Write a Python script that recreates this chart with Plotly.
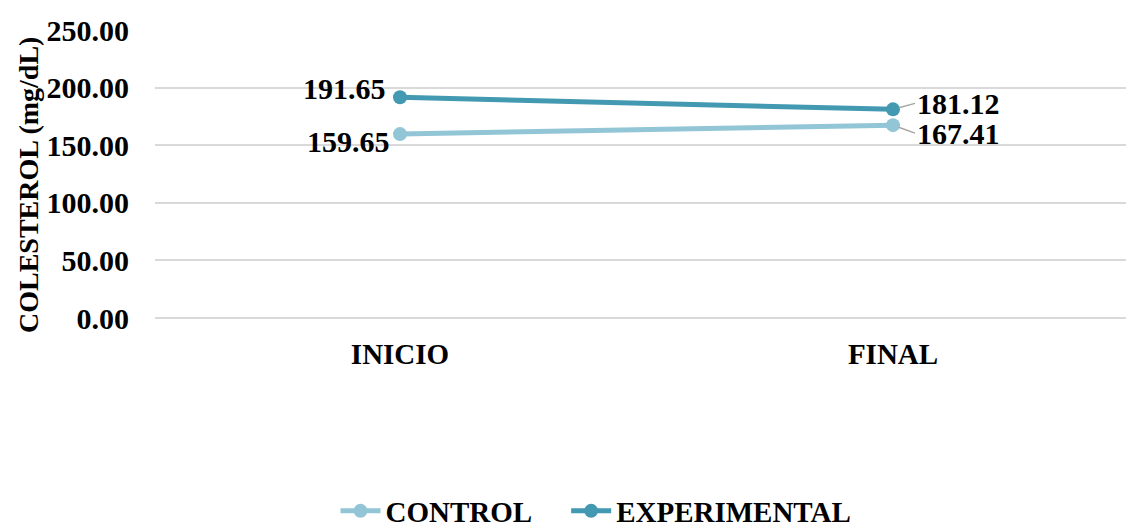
import plotly.graph_objects as go

categories = ["INICIO", "FINAL"]
control = [159.65, 167.41]
experimental = [191.65, 181.12]
y_ticks = [0, 50, 100, 150, 200, 250]

C_CONTROL = "#92C5D6"
C_EXP = "#4299B1"
FONT = "Liberation Serif"

W, H = 1126, 530
L, R, T, B = 155, 0, 30, 212
xpos = list(range(len(categories)))

fig = go.Figure()
fig.add_trace(go.Scatter(x=xpos, y=control, name="<b>CONTROL</b>\u00a0\u00a0\u00a0\u00a0", mode="lines+markers",
                         line=dict(color=C_CONTROL, width=5),
                         marker=dict(color=C_CONTROL, size=14)))
fig.add_trace(go.Scatter(x=xpos, y=experimental, name="<b>EXPERIMENTAL</b>", mode="lines+markers",
                         line=dict(color=C_EXP, width=5),
                         marker=dict(color=C_EXP, size=14)))

lab_font = dict(family=FONT, size=30, color="black")
# INICIO labels (left of points)
fig.add_annotation(x=xpos[0], y=experimental[0], text="<b>%.2f</b>" % experimental[0],
                   showarrow=False, xanchor="right", yanchor="middle", xshift=-12, yshift=9,
                   font=lab_font)
fig.add_annotation(x=xpos[0], y=control[0], text="<b>%.2f</b>" % control[0],
                   showarrow=False, xanchor="right", yanchor="middle", xshift=-8, yshift=-7,
                   font=lab_font)
# FINAL labels (right of points, with leader lines)
fig.add_annotation(x=xpos[1], y=experimental[1], text="<b>%.2f</b>" % experimental[1],
                   showarrow=True, arrowhead=0, arrowwidth=1.5, arrowcolor="#A6A6A6",
                   ax=22, ay=-6, xanchor="left", yanchor="middle", standoff=6,
                   font=lab_font)
fig.add_annotation(x=xpos[1], y=control[1], text="<b>%.2f</b>" % control[1],
                   showarrow=True, arrowhead=0, arrowwidth=1.5, arrowcolor="#A6A6A6",
                   ax=22, ay=8, xanchor="left", yanchor="middle", standoff=6,
                   font=lab_font)

# y-axis title
plot_w = W - L - R
plot_h = H - T - B
fig.add_annotation(xref="paper", yref="paper", x=(28 - L) / plot_w, y=(H - B - 185) / plot_h,
                   text="<b>COLESTEROL (mg/dL)</b>", textangle=-90, showarrow=False,
                   xanchor="center", yanchor="middle",
                   font=dict(family=FONT, size=28, color="black"))

unit = 493
xmin = -(400 - L) / unit
xmax = 1 + (W - R - 893) / unit

fig.update_layout(
    width=W, height=H,
    margin=dict(l=L, r=R, t=T, b=B),
    paper_bgcolor="white", plot_bgcolor="white",
    font=dict(family=FONT, size=29, color="black"),
    showlegend=True,
    legend=dict(orientation="h", xref="container", yref="container",
                x=596 / W, y=1 - 511 / H, xanchor="center", yanchor="middle",
                font=dict(family=FONT, size=29, color="black"),
                itemwidth=40, tracegroupgap=0),
    xaxis=dict(range=[xmin, xmax], tickmode="array", tickvals=xpos,
               ticktext=["<b>%s</b>" % c for c in categories],
               showgrid=False, zeroline=False, showline=False, ticks="",
               ticklabelstandoff=16,
               tickfont=dict(family=FONT, size=29, color="black")),
    yaxis=dict(range=[0, 250], tickmode="array", tickvals=y_ticks,
               ticktext=["<b>%.2f</b>" % v for v in y_ticks],
               showgrid=True, gridcolor="#D9D9D9", gridwidth=1.5,
               zeroline=True, zerolinecolor="#D9D9D9", zerolinewidth=1.5,
               showline=False, ticks="", ticklabelstandoff=25,
               tickfont=dict(family=FONT, size=30, color="black")),
)

fig.write_html("out.html")
